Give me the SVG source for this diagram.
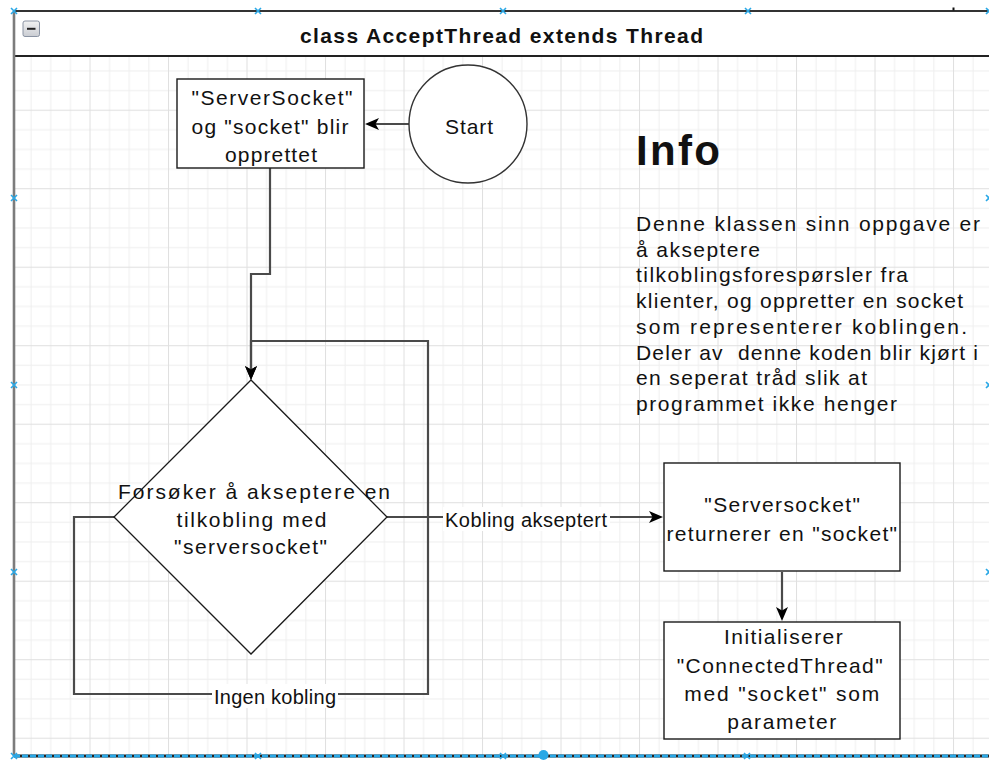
<svg xmlns="http://www.w3.org/2000/svg" width="989" height="760" viewBox="0 0 989 760">
  <style>
    .t { font-family: "Liberation Sans", Arial, sans-serif; font-size: 21px; fill: #111; }
    .e { font-size: 20px; }
    .b { font-weight: bold; }
    .box { fill: #fff; stroke: #1a1a1a; stroke-width: 1.4; }
    .edge { fill: none; stroke: #4a4a4a; stroke-width: 2.2; }
    .lbl { fill: #fff; }
    .mk { stroke: #2aa8e6; stroke-width: 1.6; fill: none; }
  </style>
  <defs>
    <pattern id="grid" patternUnits="userSpaceOnUse" x="11" y="31.2" width="78.5" height="78.5">
      <rect x="0" y="0" width="78.5" height="78.5" fill="#fff"/>
      <g fill="#efefef">
        <rect x="19.6" y="0" width="1" height="78.5"/>
        <rect x="39.2" y="0" width="1" height="78.5"/>
        <rect x="58.9" y="0" width="1" height="78.5"/>
        <rect x="0" y="19.6" width="78.5" height="1"/>
        <rect x="0" y="39.2" width="78.5" height="1"/>
        <rect x="0" y="58.9" width="78.5" height="1"/>
      </g>
      <g fill="#e0e0e0">
        <rect x="0" y="0" width="1" height="78.5"/>
        <rect x="0" y="0" width="78.5" height="1"/>
      </g>
    </pattern>
    <marker id="arrow" markerUnits="userSpaceOnUse" markerWidth="14" markerHeight="12" refX="8" refY="6" orient="auto">
      <path d="M0,0 L14,6 L0,12 L3.5,6 Z" fill="#000"/>
    </marker>
    <linearGradient id="btn" x1="0" y1="0" x2="0" y2="1">
      <stop offset="0" stop-color="#f2f2f2"/>
      <stop offset="1" stop-color="#c9ccd2"/>
    </linearGradient>
  </defs>

  <!-- class container -->
  <g id="container">
    <rect x="14" y="56" width="980" height="700" fill="url(#grid)"/>
    <rect x="14" y="11" width="980" height="45" fill="#fff"/>
    <line x1="14" y1="11" x2="989" y2="11" stroke="#333" stroke-width="1.8"/>
    <line x1="14" y1="56" x2="989" y2="56" stroke="#222" stroke-width="1.8"/>
    <line x1="14" y1="11" x2="14" y2="756" stroke="#7c7c7c" stroke-width="2.6"/>
    <line x1="14" y1="756" x2="989" y2="756" stroke="#222" stroke-width="3"/>
    <line x1="14" y1="756" x2="989" y2="756" stroke="#2aa8e6" stroke-width="3" stroke-dasharray="6 2"/>
    <rect x="23" y="21" width="16.5" height="15.5" rx="2" fill="url(#btn)" stroke="#8a93a3" stroke-width="1"/>
    <line x1="27" y1="28.8" x2="35.5" y2="28.8" stroke="#222" stroke-width="2"/>
    <text class="t b" x="300" y="43.3" style="font-size:21px" textLength="403" lengthAdjust="spacing">class AcceptThread extends Thread</text>
    <rect x="952.5" y="7.5" width="2" height="3" fill="#111"/>
  </g>

  <!-- selection handles -->
  <g id="handles" class="mk">
    <path d="M11,8 l6,6 M17,8 l-6,6"/>
    <path d="M255,8 l6,6 M261,8 l-6,6"/>
    <path d="M500,8 l6,6 M506,8 l-6,6"/>
    <path d="M745,8 l6,6 M751,8 l-6,6"/>
    <path d="M986,8 l6,6 M992,8 l-6,6"/>
    <path d="M11,195 l6,6 M17,195 l-6,6"/>
    <path d="M11,382 l6,6 M17,382 l-6,6"/>
    <path d="M11,569 l6,6 M17,569 l-6,6"/>
    <path d="M986,195 l6,6 M992,195 l-6,6"/>
    <path d="M986,382 l6,6 M992,382 l-6,6"/>
    <path d="M986,569 l6,6 M992,569 l-6,6"/>
    <path d="M11,753 l6,6 M17,753 l-6,6"/>
    <path d="M255,753 l6,6 M261,753 l-6,6"/>
    <path d="M500,753 l6,6 M506,753 l-6,6"/>
    <path d="M744,753 l6,6 M750,753 l-6,6"/>
    <circle cx="543.5" cy="755" r="5" fill="#2aa8e6" stroke="none"/>
  </g>

  <!-- connectors -->
  <g id="connectors">
    <path class="edge" d="M409,124 H371" marker-end="url(#arrow)"/>
    <path class="edge" d="M270,168 V274 H251 V374" marker-end="url(#arrow)"/>
    <path class="edge" d="M114,517 H74 V694 H428 V341 H251 V374" marker-end="url(#arrow)"/>
    <path class="edge" d="M387,517 H657" marker-end="url(#arrow)"/>
    <path class="edge" d="M782,572 V615" marker-end="url(#arrow)"/>
    <rect class="lbl" x="443" y="507" width="167" height="24"/>
    <text class="t e" x="445" y="527" textLength="162" lengthAdjust="spacing">Kobling akseptert</text>
    <rect class="lbl" x="212" y="684" width="126" height="24"/>
    <text class="t e" x="214" y="704" textLength="122" lengthAdjust="spacing">Ingen kobling</text>
  </g>

  <!-- start -->
  <g id="start">
    <circle cx="468" cy="124" r="59" fill="#fff" stroke="#333" stroke-width="1.4"/>
    <text class="t" x="445" y="134" textLength="48" lengthAdjust="spacing">Start</text>
  </g>

  <!-- create sockets -->
  <g id="create">
    <rect class="box" x="177" y="79" width="187" height="89"/>
    <text class="t" x="191.5" y="105" textLength="161" lengthAdjust="spacing">"ServerSocket"</text>
    <text class="t" x="191.5" y="133.5" textLength="157" lengthAdjust="spacing">og "socket" blir</text>
    <text class="t" x="225" y="161.5" textLength="92" lengthAdjust="spacing">opprettet</text>
  </g>

  <!-- accept decision -->
  <g id="accept">
    <polygon points="251,380 387,517 251,654 114,517" fill="#fff" stroke="#1a1a1a" stroke-width="1.3"/>
    <text class="t" x="118" y="499" textLength="272" lengthAdjust="spacing">Forsøker å akseptere en</text>
    <text class="t" x="176.5" y="526.7" textLength="150" lengthAdjust="spacing">tilkobling med</text>
    <text class="t" x="174" y="554" textLength="153" lengthAdjust="spacing">"serversocket"</text>
  </g>

  <!-- returns socket -->
  <g id="returns">
    <rect class="box" x="664" y="463" width="236" height="108"/>
    <text class="t" x="704.3" y="512.3" textLength="155.7" lengthAdjust="spacing">"Serversocket"</text>
    <text class="t" x="666.5" y="541" textLength="230.5" lengthAdjust="spacing">returnerer en "socket"</text>
  </g>

  <!-- init connected thread -->
  <g id="init">
    <rect class="box" x="664" y="622" width="236" height="117"/>
    <text class="t" x="724" y="644" textLength="118.7" lengthAdjust="spacing">Initialiserer</text>
    <text class="t" x="676.7" y="672.5" textLength="206" lengthAdjust="spacing">"ConnectedThread"</text>
    <text class="t" x="684.3" y="701" textLength="195" lengthAdjust="spacing">med "socket" som</text>
    <text class="t" x="727.3" y="728.5" textLength="109" lengthAdjust="spacing">parameter</text>
  </g>

  <!-- info text -->
  <g id="info">
    <text class="t b" x="636" y="165" style="font-size:42px" textLength="84" lengthAdjust="spacing">Info</text>
    <text class="t" x="636" y="231" textLength="344" lengthAdjust="spacing">Denne klassen sinn oppgave er</text>
    <text class="t" x="636" y="256.7" textLength="124" lengthAdjust="spacing">å akseptere</text>
    <text class="t" x="636" y="282.4" textLength="272" lengthAdjust="spacing">tilkoblingsforespørsler fra</text>
    <text class="t" x="636" y="308.1" textLength="327" lengthAdjust="spacing">klienter, og oppretter en socket</text>
    <text class="t" x="636" y="333.8" textLength="331" lengthAdjust="spacing">som representerer koblingen.</text>
    <text class="t" x="636" y="359.5" textLength="342" lengthAdjust="spacing" xml:space="preserve">Deler av  denne koden blir kjørt i</text>
    <text class="t" x="636" y="385.2" textLength="231" lengthAdjust="spacing">en seperat tråd slik at</text>
    <text class="t" x="636" y="410.9" textLength="261" lengthAdjust="spacing">programmet ikke henger</text>
  </g>
</svg>
